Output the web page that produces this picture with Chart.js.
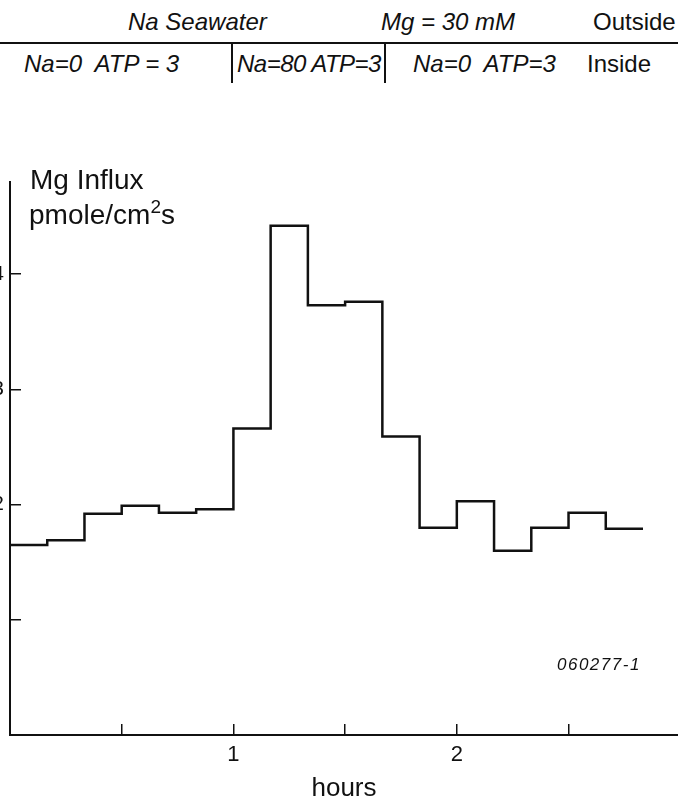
<!DOCTYPE html>
<html>
<head>
<meta charset="utf-8">
<script src="https://cdn.jsdelivr.net/npm/chart.js@4"></script>
<style>
  html, body { margin: 0; padding: 0; background: #fff; }
  body { width: 678px; height: 805px; position: relative; overflow: hidden; font-family: "Liberation Sans", Arial, sans-serif; color: #111; }
  .t { position: absolute; white-space: nowrap; }
  .row { font-size: 24px; line-height: 24px; }
  .it { font-style: italic; }
  .rule { position: absolute; left: 0; top: 42px; width: 678px; height: 2px; background: #111; }
  .sep { position: absolute; top: 43px; width: 2px; height: 40px; background: #111; }
  .ylab { font-size: 28px; line-height: 28px; }
  .ylab sup { font-size: 19px; vertical-align: 11px; line-height: 0; }
  .code { font-size: 17px; line-height: 17px; font-style: italic; letter-spacing: 1.5px; }
  #wrap { position: absolute; left: -30px; top: 150px; width: 708px; height: 655px; }
</style>
</head>
<body>
<div class="t row it" style="left:128px;top:10px">Na Seawater</div>
<div class="t row it" style="left:381px;top:10px">Mg = 30 mM</div>
<div class="t row" style="left:593px;top:10px">Outside</div>
<div class="rule"></div>
<div class="t row it" style="left:24px;top:52px">Na=0&nbsp; ATP = 3</div>
<div class="sep" style="left:231px"></div>
<div class="t row it" style="left:237px;top:52px;letter-spacing:-0.5px">Na=80 ATP=3</div>
<div class="sep" style="left:384px"></div>
<div class="t row it" style="left:413px;top:52px">Na=0&nbsp; ATP=3</div>
<div class="t row" style="left:587px;top:52px">Inside</div>

<div id="wrap"><canvas id="c" width="708" height="655"></canvas></div>

<div class="t ylab" style="left:30px;top:166px">Mg Influx</div>
<div class="t ylab" style="left:29px;top:201px">pmole/cm<sup>2</sup>s</div>
<div class="t code" style="left:557px;top:656px">060277-1</div>

<script>
// 10-minute collection periods (start, in minutes) and the Mg influx in each
var binStartMin = [0, 10, 20, 30, 40, 50, 60, 70, 80, 90, 100, 110, 120, 130, 140, 150, 160];
var binEndMin = 170;
var influx = [1.65, 1.69, 1.92, 1.99, 1.93, 1.96, 2.66, 4.42, 3.73, 3.76, 2.59, 1.80, 2.03, 1.60, 1.80, 1.93, 1.79];

var xTicks = [0.5, 1, 1.5, 2, 2.5];
var xTickLabels = { 1: '1', 2: '2' };
var yTicks = [1, 2, 3, 4];
var yTickLabels = { 2: '2', 3: '3', 4: '4' };

var points = binStartMin.map(function (m, i) { return { x: m / 60, y: influx[i] }; });
points.push({ x: binEndMin / 60, y: influx[influx.length - 1] });

var ctx = document.getElementById('c').getContext('2d');

new Chart(ctx, {
  type: 'line',
  data: {
    datasets: [{
      data: points,
      stepped: 'before',
      borderColor: '#111',
      borderWidth: 2.5,
      pointRadius: 0,
      fill: false
    }]
  },
  options: {
    responsive: false,
    animation: false,
    layout: { padding: { top: 32, right: 0, left: 0, bottom: 0 } },
    plugins: { legend: { display: false }, tooltip: { enabled: false } },
    scales: {
      x: {
        type: 'linear',
        min: 0,
        max: 2.99,
        afterBuildTicks: function (s) { s.ticks = xTicks.map(function (v) { return { value: v }; }); },
        afterFit: function (s) { s.height = 70; },
        border: { display: true, color: '#111', width: 2 },
        grid: { drawOnChartArea: false, drawTicks: true, tickLength: -11, color: '#111', lineWidth: 1.5 },
        ticks: {
          padding: 18,
          maxRotation: 0,
          autoSkip: false,
          color: '#111',
          font: { family: 'Liberation Sans', size: 22 },
          callback: function (v) { return xTickLabels[v] || ''; }
        },
        title: {
          display: true,
          text: 'hours',
          color: '#111',
          font: { family: 'Liberation Sans', size: 26 },
          padding: { top: 0, bottom: 1 }
        }
      },
      y: {
        min: 0,
        max: 4.8,
        afterBuildTicks: function (s) { s.ticks = yTicks.map(function (v) { return { value: v }; }); },
        afterFit: function (s) { s.width = 40; },
        border: { display: true, color: '#111', width: 2 },
        grid: { drawOnChartArea: false, drawTicks: true, tickLength: -11, color: '#111', lineWidth: 1.5 },
        ticks: {
          padding: 17,
          color: '#111',
          font: { family: 'Liberation Sans', size: 21 },
          callback: function (v) { return yTickLabels[v] || ''; }
        }
      }
    }
  }
});
</script>
</body>
</html>
